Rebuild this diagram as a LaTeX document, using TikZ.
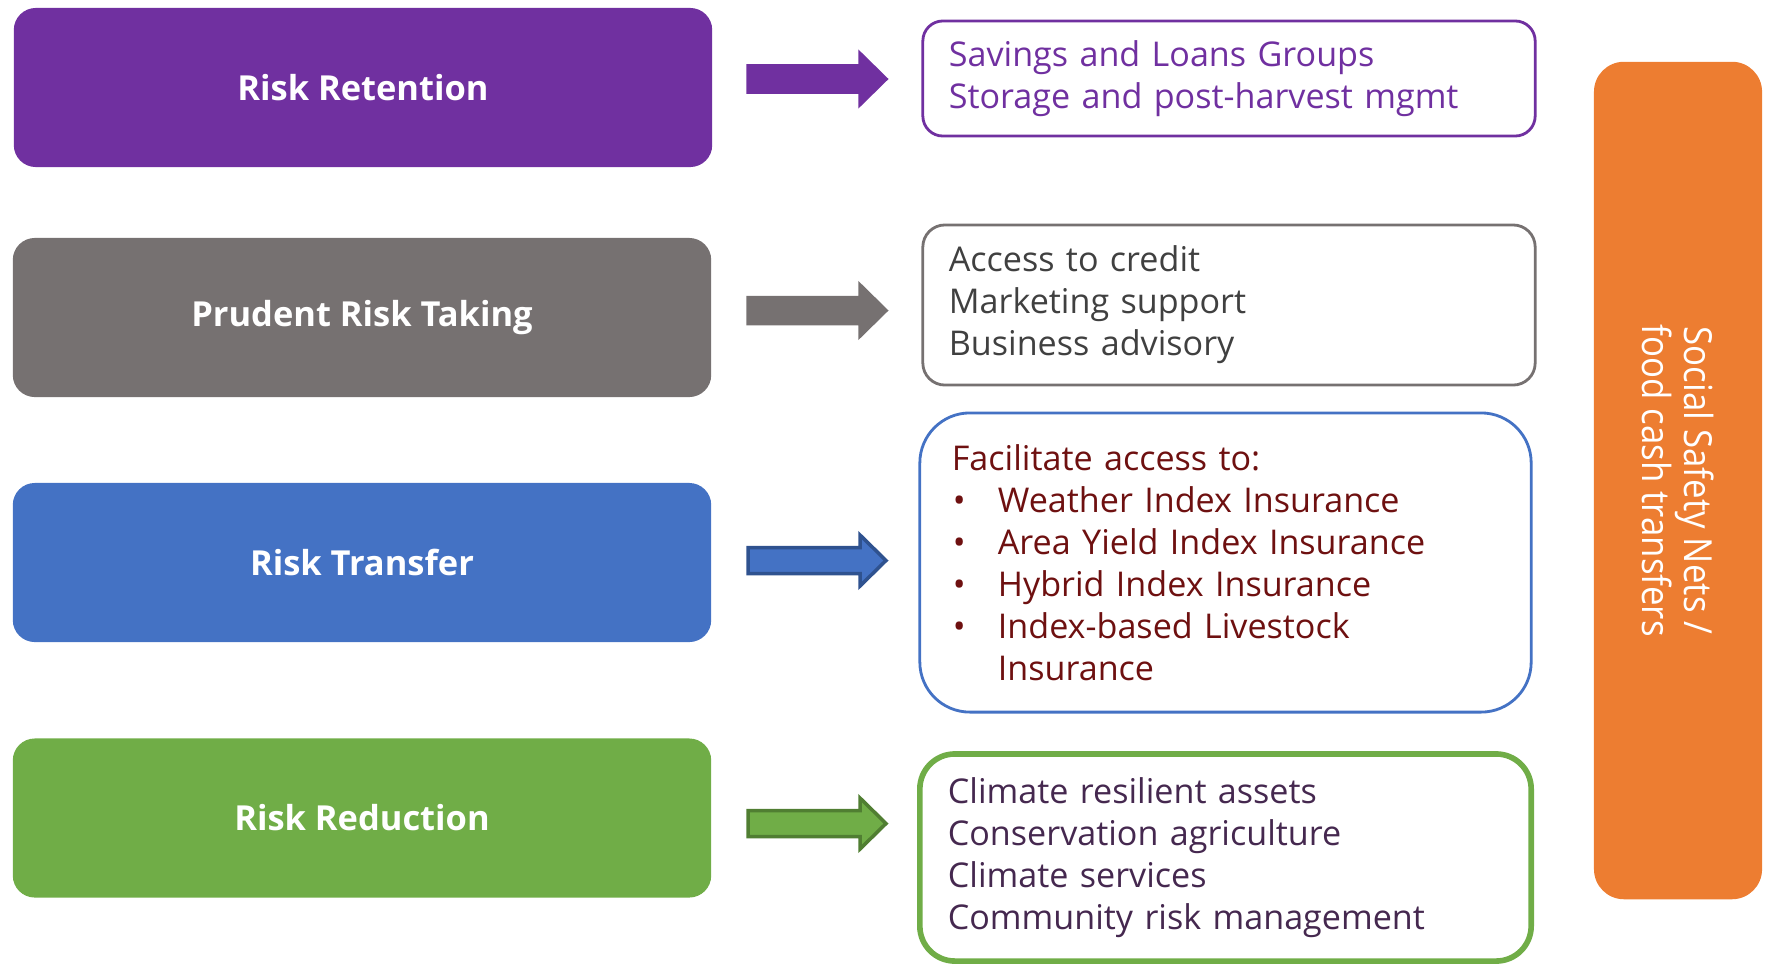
\documentclass[tikz,border=0pt]{standalone}
\usepackage{fontspec}
\setmainfont{Open Sans}
\newfontfamily\narrowfont[FakeStretch=0.9]{Open Sans}
\usetikzlibrary{positioning}

\definecolor{retain}{HTML}{7030A0}
\definecolor{prudent}{HTML}{767171}
\definecolor{transfer}{HTML}{4472C4}
\definecolor{transferdk}{HTML}{2F528F}
\definecolor{reduce}{HTML}{70AD47}
\definecolor{reducedk}{HTML}{507E32}
\definecolor{safety}{HTML}{ED7D31}
\definecolor{prudenttxt}{HTML}{404040}
\definecolor{transfertxt}{HTML}{6E1010}
\definecolor{reducetxt}{HTML}{45284F}

% block arrow: centre x, centre y, fill, outline
\newcommand{\blockarrow}[4]{%
  \filldraw[fill=#3, draw=#4, line width=1pt]
    (#1-68,#2-13) -- (#1+44,#2-13) -- (#1+44,#2-25.5) -- (#1+70,#2)
    -- (#1+44,#2+25.5) -- (#1+44,#2+13) -- (#1-68,#2+13) -- cycle;}

\begin{document}
\begin{tikzpicture}[x=0.01cm, y=-0.01cm,
    cat/.style={rectangle, rounded corners=0.22cm, minimum width=6.98cm,
      minimum height=1.59cm, text=white, font=\fontsize{9.8}{12}\selectfont\bfseries},
    tool/.style={rectangle, draw, line width=0.8pt, align=left, inner xsep=0.26cm,
      font=\fontsize{9.7}{11.95}\selectfont}]
  \useasboundingbox (0,0) rectangle (1767,966);

  % categories
  \node[cat, fill=retain] (retention) at (363,87.5) {Risk Retention};
  \node[cat, fill=prudent] (prudent) at (362,317.5) {Prudent Risk Taking};
  \node[cat, fill=transfer] (transfer) at (362,562.5) {Risk Transfer};
  \node[cat, fill=reduce] (reduction) at (362,818) {Risk Reduction};

  % block arrows
  \blockarrow{816}{79}{retain}{retain}
  \blockarrow{816}{310.5}{prudent}{prudent}
  \blockarrow{816}{560.5}{transfer}{transferdk}
  \blockarrow{816}{823.5}{reduce}{reducedk}

  % instruments
  \node[tool, draw=retain, text=retain, rounded corners=0.2cm,
    text width=5.6cm, minimum height=1.15cm] (savings) at (1229,78.5)
    {Savings and Loans Groups\\Storage and post-harvest mgmt};
  \node[tool, draw=prudent, text=prudenttxt, rounded corners=0.22cm,
    text width=5.6cm, minimum height=1.6cm] (credit) at (1229,305)
    {Access to credit\\Marketing support\\Business advisory};
  \node[tool, draw=transfer, text=transfertxt, rounded corners=0.5cm, inner xsep=0.32cm,
    text width=5.47cm, minimum height=2.99cm] (index) at (1225.5,562.5)
    {Facilitate access to:\\
     \hspace*{0.01cm}\makebox[0.45cm][l]{\textbullet}Weather Index Insurance\\
     \hspace*{0.01cm}\makebox[0.45cm][l]{\textbullet}Area Yield Index Insurance\\
     \hspace*{0.01cm}\makebox[0.45cm][l]{\textbullet}Hybrid Index Insurance\\
     \hspace*{0.01cm}\makebox[0.45cm][l]{\textbullet}Index-based Livestock\\
     \hspace*{0.46cm}Insurance};
  \node[tool, draw=reduce, text=reducetxt, line width=1.6pt, rounded corners=0.35cm,
    inner xsep=0.28cm, text width=5.55cm, minimum height=2.07cm] (climate) at (1225.5,857.5)
    {Climate resilient assets\\Conservation agriculture\\Climate services\\Community risk management};

  % safety nets
  \node[rectangle, fill=safety, rounded corners=0.3cm, minimum width=8.37cm,
    minimum height=1.68cm, rotate=-90, text=white, align=center,
    font=\narrowfont\fontsize{11}{12}\selectfont] (safetynet) at (1678,480.5)
    {Social Safety Nets /\\food cash transfers};
\end{tikzpicture}
\end{document}
